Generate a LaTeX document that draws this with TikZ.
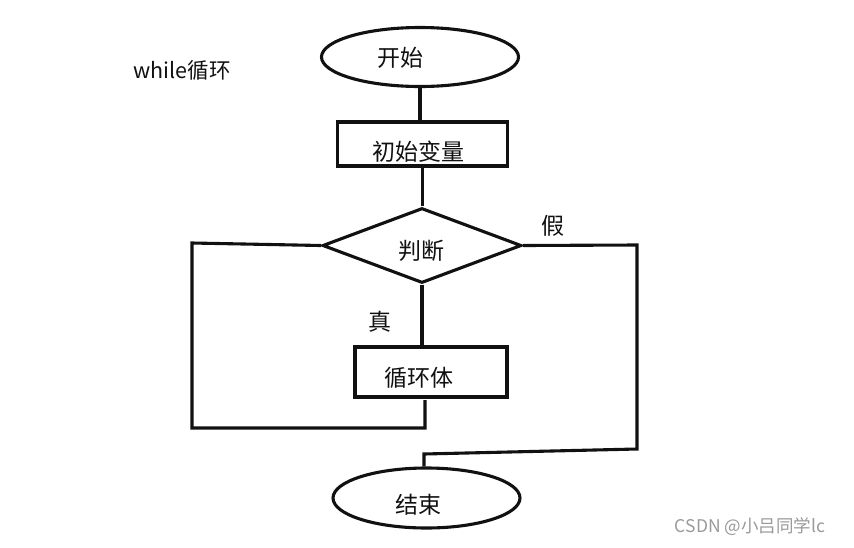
\documentclass[tikz,border=0pt]{standalone}
\usepackage{fontspec}
\setmainfont{Noto Sans CJK SC}
\usetikzlibrary{shapes.geometric}
\definecolor{ink}{HTML}{111111}
\definecolor{mark}{HTML}{9A9A9A}
\begin{document}
\begin{tikzpicture}[x=1pt,y=-1pt,
  line width=3.1pt, draw=ink,
  box/.style={draw=ink, rectangle, inner sep=0pt},
  oval/.style={draw=ink, ellipse, inner sep=0pt},
  decision/.style={draw=ink, diamond, inner sep=0pt},
  txt/.style={inner sep=0pt, text=ink, font=\fontsize{23}{26}\selectfont},
  link/.style={draw=ink, line width=3.1pt}]
\useasboundingbox (0,0) rectangle (854,547);
\fill[white] (0,0) rectangle (854,547);
% shapes
\node[oval, minimum width=197pt, minimum height=59pt] (start) at (420,57) {};
\node[box, minimum width=170pt, minimum height=44pt] (init) at (422.5,144) {};
\node[decision, minimum width=199pt, minimum height=75pt] (cond) at (422,245.5) {};
\node[box, minimum width=152pt, minimum height=50pt] (body) at (431,372) {};
\node[oval, minimum width=187pt, minimum height=60pt] (end) at (426.5,498) {};
% texts
\node[txt] (tstart) at (400,58) {开始};
\node[txt] (tinit) at (418,152) {初始变量};
\node[txt] (tcond) at (421,251) {判断};
\node[txt] (tbody) at (419,378) {循环体};
\node[txt] (tend) at (418,505) {结束};
\node[txt] (tfalse) at (553,226) {假};
\node[txt] (ttrue) at (380,322) {真};
\node[inner sep=0pt, text=ink, font=\fontsize{21.5}{24}\selectfont] (title) at (182,70) {while循环};
\node[inner sep=0pt, text=mark, font=\fontsize{17.5}{20}\selectfont] (wm) at (750,527) {CSDN @小吕同学lc};
% coordinates
\coordinate (lt) at (192,243);
\coordinate (lb) at (192,428);
\coordinate (bb) at (425,428);
\coordinate (bs) at (425,400);
\coordinate (rt) at (637,245);
\coordinate (rb) at (637,449);
\coordinate (mb) at (424,454);
% connectors
\draw[link] (start.south) -- (start.south |- init.north);
\draw[link] (init.south) -- (init.south |- cond.north);
\draw[link] (cond.south) -- (cond.south |- body.north);
\draw[link] (cond.west) -- (lt) -- (lb) -- (bb) -- (bs);
\draw[link] (cond.east) -- (rt) -- (rb) -- (mb) -- (mb |- end.north);
\end{tikzpicture}
\end{document}
